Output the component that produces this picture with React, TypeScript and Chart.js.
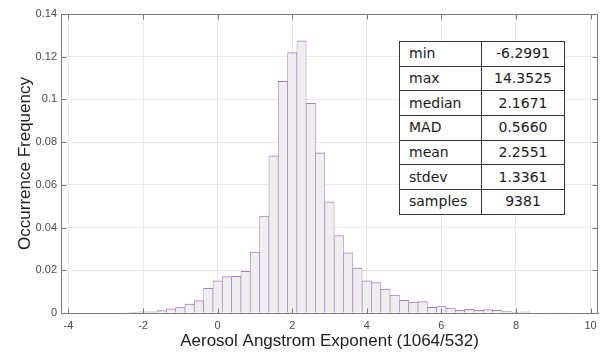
import React, { useEffect, useRef } from "react";
import { Chart, registerables } from "chart.js";

Chart.register(...registerables);

// Histogram bin centres (bin width 0.25)
const binCenters = [
  -4, -3.75, -3.5, -3.25, -3, -2.75, -2.5, -2.25, -2, -1.75, -1.5, -1.25, -1, -0.75, -0.5, -0.25,
  0, 0.25, 0.5, 0.75, 1, 1.25, 1.5, 1.75, 2, 2.25, 2.5, 2.75, 3, 3.25, 3.5, 3.75,
  4, 4.25, 4.5, 4.75, 5, 5.25, 5.5, 5.75, 6, 6.25, 6.5, 6.75, 7, 7.25, 7.5, 7.75,
  8, 8.25, 8.5, 8.75, 9, 9.25, 9.5, 9.75, 10,
];

// Occurrence frequency per bin
const frequencies = [
  0.0002, 0.0002, 0, 0, 0.0002, 0, 0.0001, 0.0003, 0.0005, 0.0006, 0.0011, 0.0019, 0.0028, 0.0042, 0.0058, 0.0115,
  0.0151, 0.0171, 0.0172, 0.0195, 0.0285, 0.0454, 0.0736, 0.1085, 0.1219, 0.1274, 0.0982, 0.075, 0.0521, 0.0363, 0.0282, 0.021,
  0.0151, 0.0143, 0.0112, 0.0084, 0.0059, 0.0051, 0.0053, 0.0027, 0.0032, 0.0023, 0.0013, 0.0017, 0.0012, 0.0016, 0.0012, 0.0008,
  0.0003, 0.0006, 0.0002, 0.0002, 0.0001, 0.0001, 0.0001, 0.0002, 0.0001,
];

const xTicks = [-4, -2, 0, 2, 4, 6, 8, 10];
const yTicks = [0, 0.02, 0.04, 0.06, 0.08, 0.1, 0.12, 0.14];

const statLabels = ["min", "max", "median", "MAD", "mean", "stdev", "samples"];
const statValues = ["-6.2991", "14.3525", "2.1671", "0.5660", "2.2551", "1.3361", "9381"];

const xTitle = "Aerosol Angstrom Exponent (1064/532)";
const yTitle = "Occurrence Frequency";

const framePlugin = {
  id: "matlabFrame",
  afterDatasetsDraw(chart: any) {
    const { ctx, chartArea, scales } = chart;
    const { left, right, top, bottom } = chartArea;
    const x = scales.x;
    const y = scales.y;
    ctx.save();
    ctx.strokeStyle = "#7a7a7a";
    ctx.lineWidth = 1;
    ctx.beginPath();
    const l = Math.round(left) + 0.5;
    const r = Math.round(right) - 0.5;
    const t = Math.round(top) + 0.5;
    const b = Math.round(bottom) + 0.5;
    ctx.rect(l, t, r - l, b - t);
    xTicks.forEach((v) => {
      const px = Math.round(x.getPixelForValue(v)) + 0.5;
      ctx.moveTo(px, b);
      ctx.lineTo(px, b - 5);
      ctx.moveTo(px, t);
      ctx.lineTo(px, t + 5);
    });
    yTicks.forEach((v) => {
      const py = Math.round(y.getPixelForValue(v)) + 0.5;
      ctx.moveTo(l, py);
      ctx.lineTo(l + 5, py);
      ctx.moveTo(r, py);
      ctx.lineTo(r - 5, py);
    });
    ctx.stroke();
    ctx.restore();
  },
};

export default function App() {
  const canvasRef = useRef<HTMLCanvasElement | null>(null);

  useEffect(() => {
    if (!canvasRef.current) return;
    const chart = new Chart(canvasRef.current, {
      type: "bar",
      data: {
        datasets: [
          {
            data: binCenters.map((c, i) => ({ x: c, y: frequencies[i] })),
            backgroundColor: "#eeeeee",
            borderColor: "#b078c6",
            borderWidth: { top: 1, left: 0.7, right: 0.7, bottom: 0 },
            borderSkipped: "start",
            barPercentage: 1,
            categoryPercentage: 1,
          } as any,
        ],
      },
      options: {
        animation: false,
        responsive: true,
        maintainAspectRatio: false,
        layout: { padding: { top: 14, right: 8, left: 0, bottom: 0 } },
        plugins: { legend: { display: false }, tooltip: { enabled: false } },
        scales: {
          x: {
            type: "linear",
            min: -4.2,
            max: 10.2,
            offset: false,
            afterBuildTicks: (s: any) => {
              s.ticks = xTicks.map((v) => ({ value: v }));
            },
            afterFit: (s: any) => {
              s.height = 41;
            },
            grid: { color: "#e9e9e9", drawTicks: false, offset: false },
            border: { color: "#7a7a7a" },
            ticks: {
              padding: 6,
              color: "#4d4d4d",
              autoSkip: false,
              maxRotation: 0,
              font: { family: "Liberation Sans", size: 11 },
            },
            title: {
              display: true,
              text: xTitle,
              color: "#222222",
              font: { family: "Liberation Sans", size: 17 },
              padding: { top: 0, bottom: 2 },
            },
          },
          y: {
            min: 0,
            max: 0.14,
            afterBuildTicks: (s: any) => {
              s.ticks = yTicks.map((v) => ({ value: v }));
            },
            afterFit: (s: any) => {
              s.width = 61;
            },
            grid: { color: "#e9e9e9", drawTicks: false },
            border: { color: "#7a7a7a" },
            ticks: {
              padding: 4,
              color: "#4d4d4d",
              font: { family: "Liberation Sans", size: 11 },
              callback: (v: any) => String(+Number(v).toFixed(4)),
            },
            title: {
              display: true,
              text: yTitle,
              color: "#222222",
              font: { family: "Liberation Sans", size: 17 },
              padding: { top: 15, bottom: 0 },
            },
          },
        },
      },
      plugins: [framePlugin],
    });
    return () => chart.destroy();
  }, []);

  const cellBase: React.CSSProperties = {
    border: "1px solid #333",
    padding: 0,
    height: 23.7,
    lineHeight: "23px",
    fontFamily: "DejaVu Sans",
    fontSize: 14,
    color: "#1a1a1a",
    whiteSpace: "nowrap",
  };

  return (
    <div style={{ position: "absolute", left: 0, top: 0, width: 606, height: 354, background: "#fff" }}>
      <canvas ref={canvasRef} />
      <table
        style={{
          position: "absolute",
          left: 399,
          top: 41,
          width: 165,
          borderCollapse: "collapse",
          tableLayout: "fixed",
          background: "#fff",
        }}
      >
        <colgroup>
          <col style={{ width: 82 }} />
          <col style={{ width: 83 }} />
        </colgroup>
        <tbody>
          {statLabels.map((label, i) => (
            <tr key={label}>
              <td style={{ ...cellBase, textAlign: "left", paddingLeft: 9 }}>{label}</td>
              <td style={{ ...cellBase, textAlign: "center" }}>{statValues[i]}</td>
            </tr>
          ))}
        </tbody>
      </table>
    </div>
  );
}
